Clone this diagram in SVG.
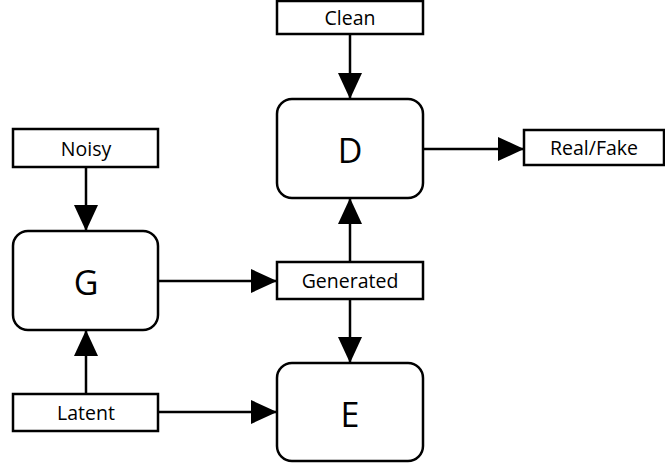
<svg xmlns="http://www.w3.org/2000/svg" width="665" height="468" viewBox="0 0 665 468">
<style>
.box{fill:#fff;stroke:#000;stroke-width:2.5}
.big{fill:#fff;stroke:#000;stroke-width:2.5}
.lbl{font-family:"Open Sans","Noto Sans",sans-serif;font-size:19.5px;text-anchor:middle}
.blbl{font-family:"Open Sans","Noto Sans",sans-serif;font-size:34px;text-anchor:middle}
.c{stroke:#000;stroke-width:2.5;fill:none;marker-end:url(#ah)}
</style>
<defs>
<marker id="ah" markerUnits="userSpaceOnUse" markerWidth="26" markerHeight="26" viewBox="0 0 26 26" refX="26" refY="13" orient="auto">
<path d="M0,1 L26,13 L0,25 Z" fill="#000"/>
</marker>
</defs>
<g id="connectors">
<line class="c" x1="350" y1="34" x2="350" y2="99"/>
<line class="c" x1="86" y1="167" x2="86" y2="231"/>
<line class="c" x1="423" y1="149" x2="524" y2="149"/>
<line class="c" x1="158" y1="281" x2="277" y2="281"/>
<line class="c" x1="350" y1="262" x2="350" y2="198"/>
<line class="c" x1="350" y1="299" x2="350" y2="363"/>
<line class="c" x1="86" y1="394" x2="86" y2="330"/>
<line class="c" x1="158" y1="412" x2="277" y2="412"/>
</g>
<g id="clean"><rect class="box" x="277" y="1" width="146" height="33"/><text class="lbl" x="350" y="25">Clean</text></g>
<g id="D"><rect class="big" x="277" y="99" width="146" height="99" rx="15"/><text class="blbl" x="350" y="163">D</text></g>
<g id="realfake"><rect class="box" x="524" y="130" width="140" height="35"/><text class="lbl" x="594" y="155">Real/Fake</text></g>
<g id="noisy"><rect class="box" x="13" y="129" width="145" height="38"/><text class="lbl" x="86" y="155.5">Noisy</text></g>
<g id="G"><rect class="big" x="13" y="231" width="145" height="99" rx="15"/><text class="blbl" x="86" y="295">G</text></g>
<g id="generated"><rect class="box" x="277" y="262" width="146" height="37"/><text class="lbl" x="350" y="288">Generated</text></g>
<g id="latent"><rect class="box" x="13" y="394" width="145" height="37"/><text class="lbl" x="86" y="420">Latent</text></g>
<g id="E"><rect class="big" x="277" y="363" width="146" height="98" rx="15"/><text class="blbl" x="350" y="427">E</text></g>
</svg>
